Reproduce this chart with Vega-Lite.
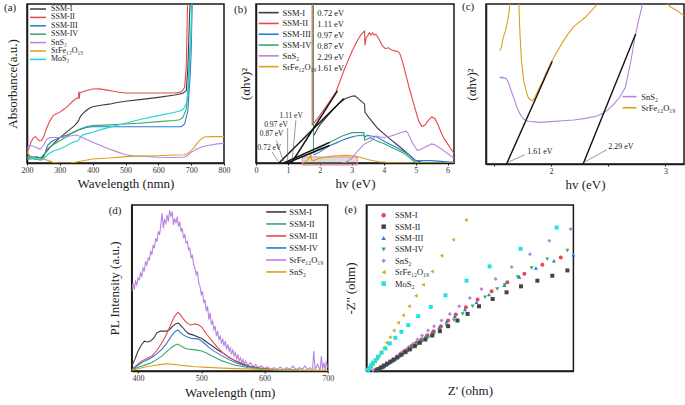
{
"$schema": "https://vega.github.io/schema/vega-lite/v6.json",
"background": "white",
"padding": {"left": 3, "top": 0, "right": 0, "bottom": 0},
"config": {
  "font": "Liberation Serif",
  "view": {"stroke": "#1a1a1a", "strokeWidth": 1.5},
  "axis": {"labelFont": "Liberation Serif", "titleFont": "Liberation Serif", "labelFontSize": 8, "titleFontSize": 13, "titleFontWeight": "normal", "labelColor": "#333", "titleColor": "#222", "domainColor": "#1a1a1a", "domainWidth": 1.5, "tickColor": "#1a1a1a", "tickSize": 2, "labelPadding": 1, "labelFlush": false, "grid": false},
  "legend": {"labelFont": "Liberation Serif", "labelColor": "#222"},
  "title": {"font": "Liberation Serif", "fontWeight": "normal", "fontSize": 11, "anchor": "start", "color": "#222", "offset": 0}
},
"datasets": {
  "a_lines": [
    {"x":200,"y":4.6,"s":"SSM-I"},{"x":210,"y":4.2,"s":"SSM-I"},{"x":220,"y":3.6,"s":"SSM-I"},{"x":235,"y":3,"s":"SSM-I"},{"x":245,"y":3.5,"s":"SSM-I"},{"x":255,"y":6,"s":"SSM-I"},{"x":270,"y":9.9,"s":"SSM-I"},{"x":285,"y":13,"s":"SSM-I"},{"x":300,"y":16,"s":"SSM-I"},{"x":315,"y":18.5,"s":"SSM-I"},{"x":330,"y":21,"s":"SSM-I"},{"x":345,"y":23.5,"s":"SSM-I"},{"x":355,"y":26,"s":"SSM-I"},{"x":358,"y":27,"s":"SSM-I"},{"x":362,"y":29,"s":"SSM-I"},{"x":370,"y":31,"s":"SSM-I"},{"x":380,"y":33,"s":"SSM-I"},{"x":390,"y":34.4,"s":"SSM-I"},{"x":400,"y":35.4,"s":"SSM-I"},{"x":425,"y":36.3,"s":"SSM-I"},{"x":450,"y":37,"s":"SSM-I"},{"x":475,"y":38,"s":"SSM-I"},{"x":500,"y":38.8,"s":"SSM-I"},{"x":550,"y":40,"s":"SSM-I"},{"x":600,"y":41.3,"s":"SSM-I"},{"x":650,"y":42.8,"s":"SSM-I"},{"x":675,"y":43.8,"s":"SSM-I"},{"x":685,"y":45.5,"s":"SSM-I"},{"x":690,"y":60,"s":"SSM-I"},{"x":695,"y":92,"s":"SSM-I"},{"x":699,"y":110,"s":"SSM-I"},
    {"x":200,"y":6.7,"s":"SSM-II"},{"x":205,"y":9,"s":"SSM-II"},{"x":212,"y":13,"s":"SSM-II"},{"x":220,"y":16,"s":"SSM-II"},{"x":226,"y":16.6,"s":"SSM-II"},{"x":232,"y":15,"s":"SSM-II"},{"x":238,"y":14,"s":"SSM-II"},{"x":244,"y":14.2,"s":"SSM-II"},{"x":250,"y":16,"s":"SSM-II"},{"x":260,"y":22,"s":"SSM-II"},{"x":270,"y":26.5,"s":"SSM-II"},{"x":280,"y":30,"s":"SSM-II"},{"x":290,"y":31,"s":"SSM-II"},{"x":300,"y":32,"s":"SSM-II"},{"x":310,"y":33.5,"s":"SSM-II"},{"x":320,"y":35,"s":"SSM-II"},{"x":330,"y":37,"s":"SSM-II"},{"x":340,"y":39,"s":"SSM-II"},{"x":350,"y":40.5,"s":"SSM-II"},{"x":357,"y":41,"s":"SSM-II"},{"x":358,"y":45,"s":"SSM-II"},{"x":359,"y":40.5,"s":"SSM-II"},{"x":361,"y":44,"s":"SSM-II"},{"x":370,"y":44.8,"s":"SSM-II"},{"x":380,"y":45.5,"s":"SSM-II"},{"x":400,"y":46.5,"s":"SSM-II"},{"x":420,"y":46.6,"s":"SSM-II"},{"x":440,"y":46,"s":"SSM-II"},{"x":460,"y":45.3,"s":"SSM-II"},{"x":480,"y":44.5,"s":"SSM-II"},{"x":500,"y":44,"s":"SSM-II"},{"x":550,"y":44,"s":"SSM-II"},{"x":600,"y":44,"s":"SSM-II"},{"x":650,"y":44,"s":"SSM-II"},{"x":670,"y":44.6,"s":"SSM-II"},{"x":680,"y":47.6,"s":"SSM-II"},{"x":685,"y":60,"s":"SSM-II"},{"x":688,"y":90,"s":"SSM-II"},{"x":690,"y":110,"s":"SSM-II"},
    {"x":200,"y":2.5,"s":"SSM-III"},{"x":215,"y":3.5,"s":"SSM-III"},{"x":230,"y":4,"s":"SSM-III"},{"x":240,"y":3,"s":"SSM-III"},{"x":247,"y":2.4,"s":"SSM-III"},{"x":255,"y":6,"s":"SSM-III"},{"x":262,"y":11,"s":"SSM-III"},{"x":275,"y":13.5,"s":"SSM-III"},{"x":300,"y":16,"s":"SSM-III"},{"x":320,"y":17.5,"s":"SSM-III"},{"x":340,"y":19,"s":"SSM-III"},{"x":360,"y":21,"s":"SSM-III"},{"x":380,"y":22.3,"s":"SSM-III"},{"x":400,"y":22.8,"s":"SSM-III"},{"x":500,"y":22.8,"s":"SSM-III"},{"x":600,"y":22.8,"s":"SSM-III"},{"x":670,"y":22.8,"s":"SSM-III"},{"x":680,"y":24.5,"s":"SSM-III"},{"x":690,"y":33,"s":"SSM-III"},{"x":697,"y":55,"s":"SSM-III"},{"x":700,"y":70,"s":"SSM-III"},{"x":704,"y":110,"s":"SSM-III"},
    {"x":200,"y":2.5,"s":"SSM-IV"},{"x":220,"y":2.5,"s":"SSM-IV"},{"x":240,"y":2,"s":"SSM-IV"},{"x":250,"y":3.5,"s":"SSM-IV"},{"x":260,"y":8.8,"s":"SSM-IV"},{"x":280,"y":11.5,"s":"SSM-IV"},{"x":300,"y":14,"s":"SSM-IV"},{"x":320,"y":16.5,"s":"SSM-IV"},{"x":340,"y":19.3,"s":"SSM-IV"},{"x":360,"y":21.3,"s":"SSM-IV"},{"x":380,"y":22.8,"s":"SSM-IV"},{"x":400,"y":23.5,"s":"SSM-IV"},{"x":450,"y":24,"s":"SSM-IV"},{"x":500,"y":24.5,"s":"SSM-IV"},{"x":550,"y":25.2,"s":"SSM-IV"},{"x":600,"y":26,"s":"SSM-IV"},{"x":650,"y":26.7,"s":"SSM-IV"},{"x":665,"y":27.2,"s":"SSM-IV"},{"x":675,"y":28.7,"s":"SSM-IV"},{"x":685,"y":34,"s":"SSM-IV"},{"x":690,"y":43,"s":"SSM-IV"},{"x":696,"y":70,"s":"SSM-IV"},{"x":700,"y":81,"s":"SSM-IV"},{"x":703,"y":110,"s":"SSM-IV"},
    {"x":200,"y":8.8,"s":"SnS₂"},{"x":205,"y":10.5,"s":"SnS₂"},{"x":212,"y":11,"s":"SnS₂"},{"x":220,"y":10.5,"s":"SnS₂"},{"x":230,"y":9.5,"s":"SnS₂"},{"x":240,"y":8.8,"s":"SnS₂"},{"x":250,"y":11,"s":"SnS₂"},{"x":260,"y":15,"s":"SnS₂"},{"x":270,"y":16,"s":"SnS₂"},{"x":285,"y":16,"s":"SnS₂"},{"x":300,"y":16,"s":"SnS₂"},{"x":315,"y":16.3,"s":"SnS₂"},{"x":330,"y":17,"s":"SnS₂"},{"x":350,"y":17.6,"s":"SnS₂"},{"x":365,"y":16.5,"s":"SnS₂"},{"x":380,"y":15,"s":"SnS₂"},{"x":400,"y":13,"s":"SnS₂"},{"x":425,"y":11,"s":"SnS₂"},{"x":450,"y":8.8,"s":"SnS₂"},{"x":475,"y":7,"s":"SnS₂"},{"x":500,"y":5.2,"s":"SnS₂"},{"x":525,"y":4.5,"s":"SnS₂"},{"x":550,"y":4.2,"s":"SnS₂"},{"x":600,"y":3.6,"s":"SnS₂"},{"x":650,"y":3.5,"s":"SnS₂"},{"x":680,"y":3.8,"s":"SnS₂"},{"x":690,"y":4.8,"s":"SnS₂"},{"x":700,"y":6.7,"s":"SnS₂"},{"x":715,"y":8.5,"s":"SnS₂"},{"x":730,"y":9.9,"s":"SnS₂"},{"x":745,"y":10.8,"s":"SnS₂"},{"x":760,"y":11.3,"s":"SnS₂"},{"x":780,"y":12,"s":"SnS₂"},{"x":800,"y":12.4,"s":"SnS₂"},
    {"x":200,"y":6.7,"s":"SrFe₁₂O₁₉"},{"x":207,"y":5,"s":"SrFe₁₂O₁₉"},{"x":215,"y":3.6,"s":"SrFe₁₂O₁₉"},{"x":230,"y":3,"s":"SrFe₁₂O₁₉"},{"x":250,"y":2.5,"s":"SrFe₁₂O₁₉"},{"x":265,"y":1.5,"s":"SrFe₁₂O₁₉"},{"x":280,"y":0.4,"s":"SrFe₁₂O₁₉"},{"x":300,"y":0,"s":"SrFe₁₂O₁₉"},{"x":330,"y":0,"s":"SrFe₁₂O₁₉"},{"x":350,"y":0.6,"s":"SrFe₁₂O₁₉"},{"x":375,"y":1.6,"s":"SrFe₁₂O₁₉"},{"x":400,"y":2.5,"s":"SrFe₁₂O₁₉"},{"x":450,"y":3.1,"s":"SrFe₁₂O₁₉"},{"x":500,"y":4,"s":"SrFe₁₂O₁₉"},{"x":550,"y":4.4,"s":"SrFe₁₂O₁₉"},{"x":600,"y":4.6,"s":"SrFe₁₂O₁₉"},{"x":650,"y":5,"s":"SrFe₁₂O₁₉"},{"x":680,"y":5.2,"s":"SrFe₁₂O₁₉"},{"x":690,"y":6,"s":"SrFe₁₂O₁₉"},{"x":700,"y":7.8,"s":"SrFe₁₂O₁₉"},{"x":710,"y":10,"s":"SrFe₁₂O₁₉"},{"x":720,"y":13,"s":"SrFe₁₂O₁₉"},{"x":730,"y":15,"s":"SrFe₁₂O₁₉"},{"x":740,"y":16.4,"s":"SrFe₁₂O₁₉"},{"x":760,"y":16.6,"s":"SrFe₁₂O₁₉"},{"x":780,"y":16.6,"s":"SrFe₁₂O₁₉"},{"x":800,"y":16.6,"s":"SrFe₁₂O₁₉"},
    {"x":200,"y":3.6,"s":"MoS₂"},{"x":215,"y":3.2,"s":"MoS₂"},{"x":230,"y":2.6,"s":"MoS₂"},{"x":245,"y":1.8,"s":"MoS₂"},{"x":255,"y":3.5,"s":"MoS₂"},{"x":265,"y":5.7,"s":"MoS₂"},{"x":280,"y":7.5,"s":"MoS₂"},{"x":300,"y":8.8,"s":"MoS₂"},{"x":320,"y":10.8,"s":"MoS₂"},{"x":340,"y":13,"s":"MoS₂"},{"x":355,"y":14,"s":"MoS₂"},{"x":362,"y":16,"s":"MoS₂"},{"x":368,"y":17.5,"s":"MoS₂"},{"x":380,"y":18.3,"s":"MoS₂"},{"x":400,"y":19.3,"s":"MoS₂"},{"x":425,"y":21,"s":"MoS₂"},{"x":450,"y":22.4,"s":"MoS₂"},{"x":475,"y":23.7,"s":"MoS₂"},{"x":500,"y":25,"s":"MoS₂"},{"x":550,"y":27.7,"s":"MoS₂"},{"x":600,"y":29.8,"s":"MoS₂"},{"x":650,"y":31.9,"s":"MoS₂"},{"x":670,"y":33,"s":"MoS₂"},{"x":680,"y":35,"s":"MoS₂"},{"x":687,"y":39,"s":"MoS₂"},{"x":692,"y":50,"s":"MoS₂"},{"x":697,"y":72,"s":"MoS₂"},{"x":700,"y":85,"s":"MoS₂"},{"x":703,"y":110,"s":"MoS₂"}
  ],
  "b_lines": [
    {"x":1.8,"y":17,"s":"SSM-I"},{"x":2.0,"y":24,"s":"SSM-I"},{"x":2.3,"y":31,"s":"SSM-I"},{"x":2.6,"y":37.5,"s":"SSM-I"},{"x":2.8,"y":40.5,"s":"SSM-I"},{"x":3.0,"y":42,"s":"SSM-I"},{"x":3.1,"y":42.2,"s":"SSM-I"},{"x":3.2,"y":40.5,"s":"SSM-I"},{"x":3.35,"y":38,"s":"SSM-I"},{"x":3.4,"y":37,"s":"SSM-I"},{"x":3.41,"y":32,"s":"SSM-I"},{"x":3.5,"y":29.5,"s":"SSM-I"},{"x":3.6,"y":27,"s":"SSM-I"},{"x":3.8,"y":22,"s":"SSM-I"},{"x":4.0,"y":18.5,"s":"SSM-I"},{"x":4.2,"y":15,"s":"SSM-I"},{"x":4.45,"y":11,"s":"SSM-I"},{"x":4.6,"y":8.5,"s":"SSM-I"},{"x":4.8,"y":5,"s":"SSM-I"},{"x":5.0,"y":1.5,"s":"SSM-I"},{"x":5.2,"y":0.3,"s":"SSM-I"},{"x":6.2,"y":0,"s":"SSM-I"},
    {"x":1.759,"y":105,"s":"SSM-II"},{"x":1.76,"y":24,"s":"SSM-II"},{"x":1.85,"y":26,"s":"SSM-II"},{"x":2.0,"y":30,"s":"SSM-II"},{"x":2.25,"y":37,"s":"SSM-II"},{"x":2.5,"y":44.5,"s":"SSM-II"},{"x":2.75,"y":58,"s":"SSM-II"},{"x":3.0,"y":70,"s":"SSM-II"},{"x":3.2,"y":78,"s":"SSM-II"},{"x":3.3,"y":81,"s":"SSM-II"},{"x":3.4,"y":83,"s":"SSM-II"},{"x":3.41,"y":74,"s":"SSM-II"},{"x":3.45,"y":79,"s":"SSM-II"},{"x":3.5,"y":80,"s":"SSM-II"},{"x":3.55,"y":82,"s":"SSM-II"},{"x":3.6,"y":80.5,"s":"SSM-II"},{"x":3.65,"y":82,"s":"SSM-II"},{"x":3.7,"y":80.5,"s":"SSM-II"},{"x":3.75,"y":81,"s":"SSM-II"},{"x":3.85,"y":78,"s":"SSM-II"},{"x":3.95,"y":74,"s":"SSM-II"},{"x":4.05,"y":72,"s":"SSM-II"},{"x":4.15,"y":72.5,"s":"SSM-II"},{"x":4.25,"y":71,"s":"SSM-II"},{"x":4.35,"y":70.5,"s":"SSM-II"},{"x":4.45,"y":70,"s":"SSM-II"},{"x":4.5,"y":69,"s":"SSM-II"},{"x":4.6,"y":63,"s":"SSM-II"},{"x":4.7,"y":55,"s":"SSM-II"},{"x":4.8,"y":47,"s":"SSM-II"},{"x":4.9,"y":40,"s":"SSM-II"},{"x":5.0,"y":33,"s":"SSM-II"},{"x":5.1,"y":26,"s":"SSM-II"},{"x":5.2,"y":23,"s":"SSM-II"},{"x":5.3,"y":24,"s":"SSM-II"},{"x":5.4,"y":27,"s":"SSM-II"},{"x":5.5,"y":29,"s":"SSM-II"},{"x":5.6,"y":28,"s":"SSM-II"},{"x":5.7,"y":24,"s":"SSM-II"},{"x":5.8,"y":19,"s":"SSM-II"},{"x":5.9,"y":15,"s":"SSM-II"},{"x":6.0,"y":12,"s":"SSM-II"},{"x":6.1,"y":9,"s":"SSM-II"},{"x":6.2,"y":6,"s":"SSM-II"},
    {"x":1.8,"y":5,"s":"SSM-III"},{"x":2.0,"y":7,"s":"SSM-III"},{"x":2.28,"y":10.7,"s":"SSM-III"},{"x":2.5,"y":12.5,"s":"SSM-III"},{"x":2.7,"y":14.3,"s":"SSM-III"},{"x":2.9,"y":15.8,"s":"SSM-III"},{"x":3.12,"y":17,"s":"SSM-III"},{"x":3.38,"y":17.6,"s":"SSM-III"},{"x":3.4,"y":16,"s":"SSM-III"},{"x":3.48,"y":17.4,"s":"SSM-III"},{"x":3.6,"y":17,"s":"SSM-III"},{"x":3.79,"y":16.4,"s":"SSM-III"},{"x":4.05,"y":13.2,"s":"SSM-III"},{"x":4.37,"y":10,"s":"SSM-III"},{"x":4.6,"y":7.5,"s":"SSM-III"},{"x":4.8,"y":5,"s":"SSM-III"},{"x":5.0,"y":1.5,"s":"SSM-III"},{"x":5.5,"y":1.5,"s":"SSM-III"},{"x":5.8,"y":1,"s":"SSM-III"},{"x":6.2,"y":0.5,"s":"SSM-III"},
    {"x":1.799,"y":105,"s":"SSM-IV"},{"x":1.8,"y":6.5,"s":"SSM-IV"},{"x":1.85,"y":7.5,"s":"SSM-IV"},{"x":2.0,"y":9.5,"s":"SSM-IV"},{"x":2.28,"y":12.8,"s":"SSM-IV"},{"x":2.5,"y":15,"s":"SSM-IV"},{"x":2.7,"y":17,"s":"SSM-IV"},{"x":3.01,"y":19.1,"s":"SSM-IV"},{"x":3.2,"y":19.2,"s":"SSM-IV"},{"x":3.38,"y":19.1,"s":"SSM-IV"},{"x":3.4,"y":14.3,"s":"SSM-IV"},{"x":3.58,"y":15.9,"s":"SSM-IV"},{"x":3.79,"y":13.8,"s":"SSM-IV"},{"x":4.05,"y":11.8,"s":"SSM-IV"},{"x":4.37,"y":8.6,"s":"SSM-IV"},{"x":4.6,"y":6.5,"s":"SSM-IV"},{"x":4.8,"y":3.6,"s":"SSM-IV"},{"x":4.95,"y":1,"s":"SSM-IV"},{"x":5.1,"y":0,"s":"SSM-IV"},{"x":6.2,"y":0,"s":"SSM-IV"},
    {"x":2.7,"y":0,"s":"SnS₂"},{"x":2.8,"y":0.5,"s":"SnS₂"},{"x":2.9,"y":1.5,"s":"SnS₂"},{"x":3.0,"y":3,"s":"SnS₂"},{"x":3.1,"y":5.5,"s":"SnS₂"},{"x":3.2,"y":8,"s":"SnS₂"},{"x":3.3,"y":10,"s":"SnS₂"},{"x":3.4,"y":12,"s":"SnS₂"},{"x":3.5,"y":13,"s":"SnS₂"},{"x":3.6,"y":14,"s":"SnS₂"},{"x":3.7,"y":16,"s":"SnS₂"},{"x":3.75,"y":17,"s":"SnS₂"},{"x":3.85,"y":16.5,"s":"SnS₂"},{"x":4.0,"y":16,"s":"SnS₂"},{"x":4.15,"y":16.5,"s":"SnS₂"},{"x":4.3,"y":17.5,"s":"SnS₂"},{"x":4.45,"y":18.5,"s":"SnS₂"},{"x":4.6,"y":19.5,"s":"SnS₂"},{"x":4.7,"y":20,"s":"SnS₂"},{"x":4.75,"y":19,"s":"SnS₂"},{"x":4.8,"y":17,"s":"SnS₂"},{"x":4.9,"y":12.5,"s":"SnS₂"},{"x":4.95,"y":11,"s":"SnS₂"},{"x":5.05,"y":8,"s":"SnS₂"},{"x":5.15,"y":8.5,"s":"SnS₂"},{"x":5.3,"y":10,"s":"SnS₂"},{"x":5.5,"y":12,"s":"SnS₂"},{"x":5.6,"y":11.5,"s":"SnS₂"},{"x":5.7,"y":10,"s":"SnS₂"},{"x":5.8,"y":9,"s":"SnS₂"},{"x":5.9,"y":7.5,"s":"SnS₂"},{"x":6.0,"y":6,"s":"SnS₂"},{"x":6.1,"y":4.5,"s":"SnS₂"},{"x":6.2,"y":3,"s":"SnS₂"},
    {"x":1.45,"y":0,"s":"SrFe₁₂O₁₉"},{"x":1.55,"y":1,"s":"SrFe₁₂O₁₉"},{"x":1.62,"y":2,"s":"SrFe₁₂O₁₉"},{"x":1.68,"y":3.5,"s":"SrFe₁₂O₁₉"},{"x":1.71,"y":6.5,"s":"SrFe₁₂O₁₉"},{"x":1.74,"y":2,"s":"SrFe₁₂O₁₉"},{"x":1.8,"y":1.5,"s":"SrFe₁₂O₁₉"},{"x":1.97,"y":2.8,"s":"SrFe₁₂O₁₉"},{"x":2.2,"y":3.6,"s":"SrFe₁₂O₁₉"},{"x":2.39,"y":4.3,"s":"SrFe₁₂O₁₉"},{"x":2.6,"y":4.6,"s":"SrFe₁₂O₁₉"},{"x":2.8,"y":4.8,"s":"SrFe₁₂O₁₉"},{"x":3.0,"y":4.6,"s":"SrFe₁₂O₁₉"},{"x":3.11,"y":4.3,"s":"SrFe₁₂O₁₉"},{"x":3.3,"y":3.3,"s":"SrFe₁₂O₁₉"},{"x":3.53,"y":2,"s":"SrFe₁₂O₁₉"},{"x":3.84,"y":0.8,"s":"SrFe₁₂O₁₉"},{"x":4.2,"y":0.3,"s":"SrFe₁₂O₁₉"},{"x":5.0,"y":0,"s":"SrFe₁₂O₁₉"},{"x":6.2,"y":0,"s":"SrFe₁₂O₁₉"}
  ],
  "b_tan": [
    {"x":0.72,"y":0,"id":"t1"},{"x":2.75,"y":40.5,"id":"t1"},
    {"x":1.11,"y":0,"id":"t2"},{"x":2.55,"y":45.3,"id":"t2"},
    {"x":0.97,"y":0,"id":"t3"},{"x":2.3,"y":11,"id":"t3"},
    {"x":0.87,"y":0,"id":"t4"},{"x":2.3,"y":13,"id":"t4"}
  ],
  "b_arrow": [
    {"x":1.25,"y":27,"x2":1.13,"y2":1},
    {"x":0.99,"y":22,"x2":0.99,"y2":1},
    {"x":0.64,"y":14,"x2":0.86,"y2":1},
    {"x":0.5,"y":7,"x2":0.7,"y2":1}
  ],
  "b_text": [
    {"x":1.1,"y":29.6,"t":"1.11 eV"},
    {"x":0.63,"y":23.9,"t":"0.97 eV"},
    {"x":0.49,"y":18,"t":"0.87 eV"},
    {"x":0.42,"y":9.6,"t":"0.72 eV"}
  ],
  "b_rect": [{"x":1.45,"y":-1.3,"x2":3.17,"y2":3.8}],
  "b_ev": [
    {"x":1.92,"y":94.3,"t":"0.72 eV"},
    {"x":1.92,"y":87.4,"t":"1.11 eV"},
    {"x":1.92,"y":80.5,"t":"0.97 eV"},
    {"x":1.92,"y":73.6,"t":"0.87 eV"},
    {"x":1.92,"y":66.7,"t":"2.29 eV"},
    {"x":1.92,"y":59.7,"t":"1.61 eV"}
  ],
  "c_lines": [
    {"x":1.55,"y":53.8,"s":"SnS₂"},{"x":1.56,"y":54.5,"s":"SnS₂"},{"x":1.57,"y":53.5,"s":"SnS₂"},{"x":1.58,"y":54.2,"s":"SnS₂"},{"x":1.59,"y":53.5,"s":"SnS₂"},{"x":1.6,"y":53.8,"s":"SnS₂"},{"x":1.62,"y":52,"s":"SnS₂"},{"x":1.65,"y":45.8,"s":"SnS₂"},{"x":1.68,"y":40,"s":"SnS₂"},{"x":1.7,"y":35.4,"s":"SnS₂"},{"x":1.73,"y":31,"s":"SnS₂"},{"x":1.76,"y":28,"s":"SnS₂"},{"x":1.8,"y":26.7,"s":"SnS₂"},{"x":1.9,"y":26,"s":"SnS₂"},{"x":2.0,"y":26.5,"s":"SnS₂"},{"x":2.1,"y":27,"s":"SnS₂"},{"x":2.2,"y":27.5,"s":"SnS₂"},{"x":2.3,"y":28.5,"s":"SnS₂"},{"x":2.4,"y":30,"s":"SnS₂"},{"x":2.45,"y":31.5,"s":"SnS₂"},{"x":2.5,"y":34,"s":"SnS₂"},{"x":2.55,"y":37.5,"s":"SnS₂"},{"x":2.6,"y":41.7,"s":"SnS₂"},{"x":2.65,"y":48,"s":"SnS₂"},{"x":2.7,"y":65,"s":"SnS₂"},{"x":2.73,"y":78,"s":"SnS₂"},{"x":2.76,"y":88,"s":"SnS₂"},{"x":2.79,"y":97,"s":"SnS₂"},{"x":2.81,"y":105,"s":"SnS₂"},
    {"x":1.55,"y":70.8,"s":"SrFe₁₂O₁₉"},{"x":1.565,"y":73,"s":"SrFe₁₂O₁₉"},{"x":1.58,"y":79,"s":"SrFe₁₂O₁₉"},{"x":1.6,"y":83,"s":"SrFe₁₂O₁₉"},{"x":1.615,"y":88,"s":"SrFe₁₂O₁₉"},{"x":1.63,"y":94,"s":"SrFe₁₂O₁₉"},{"x":1.645,"y":106,"s":"SrFe₁₂O₁₉"},{"x":1.715,"y":106,"s":"SrFe₁₂O₁₉"},{"x":1.725,"y":85,"s":"SrFe₁₂O₁₉"},{"x":1.74,"y":65,"s":"SrFe₁₂O₁₉"},{"x":1.76,"y":52,"s":"SrFe₁₂O₁₉"},{"x":1.78,"y":45.8,"s":"SrFe₁₂O₁₉"},{"x":1.8,"y":41.5,"s":"SrFe₁₂O₁₉"},{"x":1.82,"y":40,"s":"SrFe₁₂O₁₉"},{"x":1.84,"y":39.6,"s":"SrFe₁₂O₁₉"},{"x":1.86,"y":42,"s":"SrFe₁₂O₁₉"},{"x":1.88,"y":45,"s":"SrFe₁₂O₁₉"},{"x":1.92,"y":51,"s":"SrFe₁₂O₁₉"},{"x":1.95,"y":56,"s":"SrFe₁₂O₁₉"},{"x":2.0,"y":63.5,"s":"SrFe₁₂O₁₉"},{"x":2.05,"y":70,"s":"SrFe₁₂O₁₉"},{"x":2.1,"y":76,"s":"SrFe₁₂O₁₉"},{"x":2.15,"y":81.5,"s":"SrFe₁₂O₁₉"},{"x":2.2,"y":86,"s":"SrFe₁₂O₁₉"},{"x":2.25,"y":89,"s":"SrFe₁₂O₁₉"},{"x":2.3,"y":91.7,"s":"SrFe₁₂O₁₉"},{"x":2.35,"y":95.5,"s":"SrFe₁₂O₁₉"},{"x":2.4,"y":99.5,"s":"SrFe₁₂O₁₉"},{"x":2.43,"y":106,"s":"SrFe₁₂O₁₉"},{"x":2.98,"y":106,"s":"SrFe₁₂O₁₉"},{"x":3.0,"y":101,"s":"SrFe₁₂O₁₉"},{"x":3.05,"y":98,"s":"SrFe₁₂O₁₉"},{"x":3.1,"y":96,"s":"SrFe₁₂O₁₉"},{"x":3.163,"y":92.7,"s":"SrFe₁₂O₁₉"}
  ],
  "c_tan": [
    {"x":1.61,"y":0,"id":"t1"},{"x":2.01,"y":64.2,"id":"t1"},
    {"x":2.28,"y":0,"id":"t2"},{"x":2.74,"y":81.2,"id":"t2"}
  ],
  "c_arrow": [
    {"x":1.77,"y":5.8,"x2":1.62,"y2":1},
    {"x":2.49,"y":9,"x2":2.3,"y2":1.5}
  ],
  "c_text": [
    {"x":1.79,"y":7.3,"t":"1.61 eV"},
    {"x":2.5,"y":10.4,"t":"2.29 eV"}
  ],
  "d_lines": [
    {"x":390,"y":48,"s":"SrFe₁₂O₁₉"},{"x":392,"y":53,"s":"SrFe₁₂O₁₉"},{"x":394,"y":49,"s":"SrFe₁₂O₁₉"},{"x":396,"y":54,"s":"SrFe₁₂O₁₉"},{"x":398,"y":52,"s":"SrFe₁₂O₁₉"},{"x":400,"y":56,"s":"SrFe₁₂O₁₉"},{"x":402,"y":55,"s":"SrFe₁₂O₁₉"},{"x":404,"y":59,"s":"SrFe₁₂O₁₉"},{"x":406,"y":57,"s":"SrFe₁₂O₁₉"},{"x":408,"y":62,"s":"SrFe₁₂O₁₉"},{"x":410,"y":60,"s":"SrFe₁₂O₁₉"},{"x":412,"y":66,"s":"SrFe₁₂O₁₉"},{"x":414,"y":64,"s":"SrFe₁₂O₁₉"},{"x":416,"y":68,"s":"SrFe₁₂O₁₉"},{"x":418,"y":67,"s":"SrFe₁₂O₁₉"},{"x":420,"y":72,"s":"SrFe₁₂O₁₉"},{"x":422,"y":70,"s":"SrFe₁₂O₁₉"},{"x":424,"y":76,"s":"SrFe₁₂O₁₉"},{"x":426,"y":74,"s":"SrFe₁₂O₁₉"},{"x":428,"y":80,"s":"SrFe₁₂O₁₉"},{"x":430,"y":78,"s":"SrFe₁₂O₁₉"},{"x":432,"y":84,"s":"SrFe₁₂O₁₉"},{"x":434,"y":82,"s":"SrFe₁₂O₁₉"},{"x":436,"y":88,"s":"SrFe₁₂O₁₉"},{"x":438,"y":95,"s":"SrFe₁₂O₁₉"},{"x":440,"y":86,"s":"SrFe₁₂O₁₉"},{"x":442,"y":91,"s":"SrFe₁₂O₁₉"},{"x":444,"y":89,"s":"SrFe₁₂O₁₉"},{"x":446,"y":94,"s":"SrFe₁₂O₁₉"},{"x":448,"y":90,"s":"SrFe₁₂O₁₉"},{"x":450,"y":97,"s":"SrFe₁₂O₁₉"},{"x":452,"y":93,"s":"SrFe₁₂O₁₉"},{"x":454,"y":96,"s":"SrFe₁₂O₁₉"},{"x":456,"y":88,"s":"SrFe₁₂O₁₉"},{"x":458,"y":92,"s":"SrFe₁₂O₁₉"},{"x":460,"y":89,"s":"SrFe₁₂O₁₉"},{"x":462,"y":93,"s":"SrFe₁₂O₁₉"},{"x":464,"y":87,"s":"SrFe₁₂O₁₉"},{"x":466,"y":90,"s":"SrFe₁₂O₁₉"},{"x":468,"y":84,"s":"SrFe₁₂O₁₉"},{"x":470,"y":86,"s":"SrFe₁₂O₁₉"},{"x":472,"y":80,"s":"SrFe₁₂O₁₉"},{"x":474,"y":82,"s":"SrFe₁₂O₁₉"},{"x":476,"y":77,"s":"SrFe₁₂O₁₉"},{"x":478,"y":78,"s":"SrFe₁₂O₁₉"},{"x":480,"y":73,"s":"SrFe₁₂O₁₉"},{"x":482,"y":74,"s":"SrFe₁₂O₁₉"},{"x":484,"y":68,"s":"SrFe₁₂O₁₉"},{"x":486,"y":70,"s":"SrFe₁₂O₁₉"},{"x":488,"y":64,"s":"SrFe₁₂O₁₉"},{"x":490,"y":62,"s":"SrFe₁₂O₁₉"},{"x":492,"y":58,"s":"SrFe₁₂O₁₉"},{"x":494,"y":60,"s":"SrFe₁₂O₁₉"},{"x":496,"y":53,"s":"SrFe₁₂O₁₉"},{"x":498,"y":51,"s":"SrFe₁₂O₁₉"},{"x":500,"y":46,"s":"SrFe₁₂O₁₉"},{"x":502,"y":48,"s":"SrFe₁₂O₁₉"},{"x":504,"y":41,"s":"SrFe₁₂O₁₉"},{"x":506,"y":43,"s":"SrFe₁₂O₁₉"},{"x":508,"y":36,"s":"SrFe₁₂O₁₉"},{"x":510,"y":39,"s":"SrFe₁₂O₁₉"},{"x":512,"y":31,"s":"SrFe₁₂O₁₉"},{"x":514,"y":35,"s":"SrFe₁₂O₁₉"},{"x":516,"y":28,"s":"SrFe₁₂O₁₉"},{"x":518,"y":30,"s":"SrFe₁₂O₁₉"},{"x":520,"y":25,"s":"SrFe₁₂O₁₉"},{"x":522,"y":27,"s":"SrFe₁₂O₁₉"},{"x":524,"y":21,"s":"SrFe₁₂O₁₉"},{"x":526,"y":24,"s":"SrFe₁₂O₁₉"},{"x":528,"y":19,"s":"SrFe₁₂O₁₉"},{"x":530,"y":21,"s":"SrFe₁₂O₁₉"},{"x":532,"y":17,"s":"SrFe₁₂O₁₉"},{"x":534,"y":19,"s":"SrFe₁₂O₁₉"},{"x":536,"y":15,"s":"SrFe₁₂O₁₉"},{"x":538,"y":18,"s":"SrFe₁₂O₁₉"},{"x":540,"y":13,"s":"SrFe₁₂O₁₉"},{"x":542,"y":16,"s":"SrFe₁₂O₁₉"},{"x":544,"y":12,"s":"SrFe₁₂O₁₉"},{"x":546,"y":14,"s":"SrFe₁₂O₁₉"},{"x":548,"y":10,"s":"SrFe₁₂O₁₉"},{"x":550,"y":13,"s":"SrFe₁₂O₁₉"},{"x":552,"y":9,"s":"SrFe₁₂O₁₉"},{"x":554,"y":11,"s":"SrFe₁₂O₁₉"},{"x":556,"y":7,"s":"SrFe₁₂O₁₉"},{"x":558,"y":10,"s":"SrFe₁₂O₁₉"},{"x":560,"y":6,"s":"SrFe₁₂O₁₉"},{"x":562,"y":8,"s":"SrFe₁₂O₁₉"},{"x":564,"y":5,"s":"SrFe₁₂O₁₉"},{"x":566,"y":7,"s":"SrFe₁₂O₁₉"},{"x":568,"y":4,"s":"SrFe₁₂O₁₉"},{"x":570,"y":6,"s":"SrFe₁₂O₁₉"},{"x":574,"y":3.5,"s":"SrFe₁₂O₁₉"},{"x":578,"y":5,"s":"SrFe₁₂O₁₉"},{"x":582,"y":2.5,"s":"SrFe₁₂O₁₉"},{"x":586,"y":4,"s":"SrFe₁₂O₁₉"},{"x":590,"y":2,"s":"SrFe₁₂O₁₉"},{"x":595,"y":3,"s":"SrFe₁₂O₁₉"},{"x":600,"y":1.5,"s":"SrFe₁₂O₁₉"},{"x":605,"y":2.5,"s":"SrFe₁₂O₁₉"},{"x":610,"y":1,"s":"SrFe₁₂O₁₉"},{"x":615,"y":2,"s":"SrFe₁₂O₁₉"},{"x":620,"y":1,"s":"SrFe₁₂O₁₉"},{"x":625,"y":2.5,"s":"SrFe₁₂O₁₉"},{"x":630,"y":0.8,"s":"SrFe₁₂O₁₉"},{"x":635,"y":2,"s":"SrFe₁₂O₁₉"},{"x":640,"y":1,"s":"SrFe₁₂O₁₉"},{"x":645,"y":3,"s":"SrFe₁₂O₁₉"},{"x":650,"y":0.8,"s":"SrFe₁₂O₁₉"},{"x":655,"y":2,"s":"SrFe₁₂O₁₉"},{"x":660,"y":1,"s":"SrFe₁₂O₁₉"},{"x":664,"y":3,"s":"SrFe₁₂O₁₉"},{"x":668,"y":1,"s":"SrFe₁₂O₁₉"},{"x":672,"y":2,"s":"SrFe₁₂O₁₉"},{"x":676,"y":0.5,"s":"SrFe₁₂O₁₉"},{"x":678,"y":12,"s":"SrFe₁₂O₁₉"},{"x":680,"y":1,"s":"SrFe₁₂O₁₉"},{"x":684,"y":4,"s":"SrFe₁₂O₁₉"},{"x":688,"y":0.5,"s":"SrFe₁₂O₁₉"},{"x":690,"y":9,"s":"SrFe₁₂O₁₉"},{"x":692,"y":1,"s":"SrFe₁₂O₁₉"},{"x":694,"y":5,"s":"SrFe₁₂O₁₉"},{"x":696,"y":0.5,"s":"SrFe₁₂O₁₉"},{"x":698,"y":6,"s":"SrFe₁₂O₁₉"},{"x":700,"y":2,"s":"SrFe₁₂O₁₉"},
    {"x":390,"y":3,"s":"SSM-I"},{"x":395,"y":7,"s":"SSM-I"},{"x":400,"y":12,"s":"SSM-I"},{"x":405,"y":15.5,"s":"SSM-I"},{"x":410,"y":18,"s":"SSM-I"},{"x":415,"y":17.5,"s":"SSM-I"},{"x":420,"y":18,"s":"SSM-I"},{"x":425,"y":20,"s":"SSM-I"},{"x":430,"y":23,"s":"SSM-I"},{"x":435,"y":24,"s":"SSM-I"},{"x":440,"y":24,"s":"SSM-I"},{"x":445,"y":24,"s":"SSM-I"},{"x":450,"y":25,"s":"SSM-I"},{"x":455,"y":27,"s":"SSM-I"},{"x":460,"y":28.5,"s":"SSM-I"},{"x":464,"y":28.9,"s":"SSM-I"},{"x":470,"y":26.5,"s":"SSM-I"},{"x":475,"y":24.2,"s":"SSM-I"},{"x":480,"y":22.5,"s":"SSM-I"},{"x":488,"y":21.6,"s":"SSM-I"},{"x":495,"y":20.5,"s":"SSM-I"},{"x":501,"y":19.6,"s":"SSM-I"},{"x":510,"y":17,"s":"SSM-I"},{"x":517,"y":15.2,"s":"SSM-I"},{"x":525,"y":13,"s":"SSM-I"},{"x":533,"y":11.2,"s":"SSM-I"},{"x":543,"y":8.5,"s":"SSM-I"},{"x":554,"y":6.1,"s":"SSM-I"},{"x":565,"y":4.3,"s":"SSM-I"},{"x":575,"y":3,"s":"SSM-I"},{"x":590,"y":1.8,"s":"SSM-I"},{"x":607,"y":1,"s":"SSM-I"},{"x":630,"y":0.5,"s":"SSM-I"},{"x":660,"y":0.3,"s":"SSM-I"},{"x":700,"y":0.2,"s":"SSM-I"},
    {"x":390,"y":0.8,"s":"SSM-III"},{"x":398,"y":3.5,"s":"SSM-III"},{"x":406,"y":6.1,"s":"SSM-III"},{"x":414,"y":7.5,"s":"SSM-III"},{"x":422,"y":9.1,"s":"SSM-III"},{"x":430,"y":12.5,"s":"SSM-III"},{"x":438,"y":17.2,"s":"SSM-III"},{"x":445,"y":22,"s":"SSM-III"},{"x":451,"y":27.3,"s":"SSM-III"},{"x":457,"y":32.5,"s":"SSM-III"},{"x":463,"y":35.4,"s":"SSM-III"},{"x":467,"y":34,"s":"SSM-III"},{"x":472,"y":31.3,"s":"SSM-III"},{"x":477,"y":29,"s":"SSM-III"},{"x":483,"y":27.7,"s":"SSM-III"},{"x":488,"y":28.2,"s":"SSM-III"},{"x":491,"y":28.3,"s":"SSM-III"},{"x":496,"y":27.7,"s":"SSM-III"},{"x":501,"y":26.3,"s":"SSM-III"},{"x":509,"y":22,"s":"SSM-III"},{"x":517,"y":18.2,"s":"SSM-III"},{"x":525,"y":14.5,"s":"SSM-III"},{"x":533,"y":11.2,"s":"SSM-III"},{"x":543,"y":8.3,"s":"SSM-III"},{"x":554,"y":6.1,"s":"SSM-III"},{"x":565,"y":4.3,"s":"SSM-III"},{"x":575,"y":3,"s":"SSM-III"},{"x":590,"y":1.8,"s":"SSM-III"},{"x":607,"y":1,"s":"SSM-III"},{"x":630,"y":0.5,"s":"SSM-III"},{"x":660,"y":0.3,"s":"SSM-III"},{"x":700,"y":0.2,"s":"SSM-III"},
    {"x":390,"y":0.6,"s":"SSM-IV"},{"x":398,"y":3,"s":"SSM-IV"},{"x":406,"y":5.1,"s":"SSM-IV"},{"x":414,"y":6.6,"s":"SSM-IV"},{"x":422,"y":8.1,"s":"SSM-IV"},{"x":430,"y":10.5,"s":"SSM-IV"},{"x":438,"y":13.2,"s":"SSM-IV"},{"x":445,"y":16.5,"s":"SSM-IV"},{"x":453,"y":21.2,"s":"SSM-IV"},{"x":458,"y":23.5,"s":"SSM-IV"},{"x":463,"y":24.8,"s":"SSM-IV"},{"x":468,"y":23,"s":"SSM-IV"},{"x":472,"y":21.6,"s":"SSM-IV"},{"x":478,"y":20.5,"s":"SSM-IV"},{"x":485,"y":19.6,"s":"SSM-IV"},{"x":490,"y":19.5,"s":"SSM-IV"},{"x":496,"y":19.2,"s":"SSM-IV"},{"x":504,"y":17,"s":"SSM-IV"},{"x":512,"y":14.2,"s":"SSM-IV"},{"x":522,"y":11.5,"s":"SSM-IV"},{"x":533,"y":9.1,"s":"SSM-IV"},{"x":543,"y":7,"s":"SSM-IV"},{"x":554,"y":5.1,"s":"SSM-IV"},{"x":565,"y":3.6,"s":"SSM-IV"},{"x":575,"y":2.4,"s":"SSM-IV"},{"x":590,"y":1.6,"s":"SSM-IV"},{"x":607,"y":1,"s":"SSM-IV"},{"x":630,"y":0.5,"s":"SSM-IV"},{"x":660,"y":0.3,"s":"SSM-IV"},{"x":700,"y":0.2,"s":"SSM-IV"},
    {"x":390,"y":0.4,"s":"SSM-II"},{"x":398,"y":2,"s":"SSM-II"},{"x":406,"y":3,"s":"SSM-II"},{"x":414,"y":4,"s":"SSM-II"},{"x":422,"y":5.1,"s":"SSM-II"},{"x":430,"y":7,"s":"SSM-II"},{"x":438,"y":9.1,"s":"SSM-II"},{"x":445,"y":11.5,"s":"SSM-II"},{"x":453,"y":14.2,"s":"SSM-II"},{"x":458,"y":15.5,"s":"SSM-II"},{"x":463,"y":16.2,"s":"SSM-II"},{"x":468,"y":15,"s":"SSM-II"},{"x":475,"y":13.6,"s":"SSM-II"},{"x":483,"y":13,"s":"SSM-II"},{"x":491,"y":12.7,"s":"SSM-II"},{"x":501,"y":12.1,"s":"SSM-II"},{"x":509,"y":10.7,"s":"SSM-II"},{"x":517,"y":9.1,"s":"SSM-II"},{"x":525,"y":7.5,"s":"SSM-II"},{"x":533,"y":6.1,"s":"SSM-II"},{"x":543,"y":4.8,"s":"SSM-II"},{"x":554,"y":3.5,"s":"SSM-II"},{"x":565,"y":2.7,"s":"SSM-II"},{"x":575,"y":2,"s":"SSM-II"},{"x":590,"y":1.4,"s":"SSM-II"},{"x":607,"y":1,"s":"SSM-II"},{"x":630,"y":0.5,"s":"SSM-II"},{"x":660,"y":0.3,"s":"SSM-II"},{"x":700,"y":0.2,"s":"SSM-II"},
    {"x":390,"y":0.4,"s":"SnS₂"},{"x":400,"y":1.4,"s":"SnS₂"},{"x":411,"y":2.4,"s":"SnS₂"},{"x":425,"y":3.3,"s":"SnS₂"},{"x":438,"y":4,"s":"SnS₂"},{"x":446,"y":4.4,"s":"SnS₂"},{"x":455,"y":4,"s":"SnS₂"},{"x":464,"y":3.6,"s":"SnS₂"},{"x":477,"y":3.1,"s":"SnS₂"},{"x":491,"y":2.6,"s":"SnS₂"},{"x":510,"y":2.2,"s":"SnS₂"},{"x":525,"y":1.9,"s":"SnS₂"},{"x":543,"y":1.6,"s":"SnS₂"},{"x":570,"y":1.3,"s":"SnS₂"},{"x":596,"y":1,"s":"SnS₂"},{"x":620,"y":0.8,"s":"SnS₂"},{"x":649,"y":0.6,"s":"SnS₂"},{"x":675,"y":0.5,"s":"SnS₂"},{"x":700,"y":0.4,"s":"SnS₂"}
  ],
  "e_pts": [
    {"x":48.1,"y":91,"s":"SrFe₁₂O₁₉"},{"x":41.9,"y":79,"s":"SrFe₁₂O₁₉"},{"x":36.3,"y":69.4,"s":"SrFe₁₂O₁₉"},{"x":31.8,"y":60,"s":"SrFe₁₂O₁₉"},{"x":27.4,"y":52,"s":"SrFe₁₂O₁₉"},{"x":23.9,"y":45.4,"s":"SrFe₁₂O₁₉"},{"x":20.6,"y":39,"s":"SrFe₁₂O₁₉"},{"x":17.7,"y":33.6,"s":"SrFe₁₂O₁₉"},{"x":15.3,"y":29,"s":"SrFe₁₂O₁₉"},{"x":13.2,"y":24.4,"s":"SrFe₁₂O₁₉"},{"x":11.3,"y":20.4,"s":"SrFe₁₂O₁₉"},{"x":9.7,"y":17,"s":"SrFe₁₂O₁₉"},{"x":8.4,"y":14,"s":"SrFe₁₂O₁₉"},{"x":7.3,"y":11.6,"s":"SrFe₁₂O₁₉"},{"x":6.1,"y":9.4,"s":"SrFe₁₂O₁₉"},{"x":5.2,"y":7.4,"s":"SrFe₁₂O₁₉"},{"x":4.2,"y":5.6,"s":"SrFe₁₂O₁₉"},{"x":3.2,"y":4,"s":"SrFe₁₂O₁₉"},{"x":2.4,"y":2.6,"s":"SrFe₁₂O₁₉"},{"x":1.6,"y":1.4,"s":"SrFe₁₂O₁₉"},{"x":0.8,"y":0.4,"s":"SrFe₁₂O₁₉"},
    {"x":91.9,"y":86.4,"s":"MoS₂"},{"x":74.5,"y":73.6,"s":"MoS₂"},{"x":59.5,"y":63,"s":"MoS₂"},{"x":48.4,"y":54.4,"s":"MoS₂"},{"x":38.2,"y":45.6,"s":"MoS₂"},{"x":31.1,"y":38.6,"s":"MoS₂"},{"x":25,"y":33,"s":"MoS₂"},{"x":20.2,"y":27.6,"s":"MoS₂"},{"x":16.9,"y":23.6,"s":"MoS₂"},{"x":14,"y":20,"s":"MoS₂"},{"x":11.3,"y":16.6,"s":"MoS₂"},{"x":9.2,"y":13.6,"s":"MoS₂"},{"x":7.3,"y":11,"s":"MoS₂"},{"x":5.6,"y":8.6,"s":"MoS₂"},{"x":4.4,"y":6.6,"s":"MoS₂"},{"x":3.2,"y":5,"s":"MoS₂"},{"x":2.4,"y":3.6,"s":"MoS₂"},{"x":1.6,"y":2,"s":"MoS₂"},{"x":0.8,"y":0.8,"s":"MoS₂"},
    {"x":98.7,"y":85.6,"s":"SnS₂"},{"x":88.4,"y":78.4,"s":"SnS₂"},{"x":79,"y":70.4,"s":"SnS₂"},{"x":70.2,"y":62.6,"s":"SnS₂"},{"x":62.4,"y":55.4,"s":"SnS₂"},{"x":55.6,"y":49.4,"s":"SnS₂"},{"x":50,"y":44,"s":"SnS₂"},{"x":44.8,"y":39,"s":"SnS₂"},{"x":40.3,"y":34.4,"s":"SnS₂"},{"x":36.3,"y":30.4,"s":"SnS₂"},{"x":32.7,"y":27,"s":"SnS₂"},{"x":29.8,"y":24.4,"s":"SnS₂"},{"x":26.9,"y":21.4,"s":"SnS₂"},{"x":24.7,"y":19,"s":"SnS₂"},{"x":22.6,"y":16.6,"s":"SnS₂"},{"x":20.5,"y":14.6,"s":"SnS₂"},{"x":18.5,"y":12.6,"s":"SnS₂"},{"x":16.6,"y":10.8,"s":"SnS₂"},{"x":14.7,"y":9,"s":"SnS₂"},{"x":12.9,"y":7.4,"s":"SnS₂"},{"x":11.3,"y":6,"s":"SnS₂"},{"x":9.7,"y":4.6,"s":"SnS₂"},{"x":8.1,"y":3.4,"s":"SnS₂"},{"x":6.5,"y":2.2,"s":"SnS₂"},{"x":4.8,"y":1.2,"s":"SnS₂"},{"x":3.2,"y":0.4,"s":"SnS₂"},
    {"x":93.9,"y":68.4,"s":"SSM-I"},{"x":85,"y":64,"s":"SSM-I"},{"x":76.3,"y":58.6,"s":"SSM-I"},{"x":68.1,"y":53.4,"s":"SSM-I"},{"x":60.5,"y":48,"s":"SSM-I"},{"x":53.7,"y":43,"s":"SSM-I"},{"x":48.1,"y":38.4,"s":"SSM-I"},{"x":43.2,"y":34,"s":"SSM-I"},{"x":39.5,"y":30.4,"s":"SSM-I"},{"x":36,"y":27,"s":"SSM-I"},{"x":32.6,"y":24,"s":"SSM-I"},{"x":29.5,"y":21.6,"s":"SSM-I"},{"x":26.6,"y":19,"s":"SSM-I"},{"x":24.2,"y":17,"s":"SSM-I"},{"x":21.8,"y":15,"s":"SSM-I"},{"x":19.8,"y":13,"s":"SSM-I"},{"x":17.9,"y":11.4,"s":"SSM-I"},{"x":16.1,"y":9.6,"s":"SSM-I"},{"x":14.5,"y":8,"s":"SSM-I"},{"x":12.9,"y":6.6,"s":"SSM-I"},{"x":11.3,"y":5.2,"s":"SSM-I"},{"x":9.7,"y":4,"s":"SSM-I"},{"x":8.1,"y":2.8,"s":"SSM-I"},{"x":6.8,"y":1.8,"s":"SSM-I"},{"x":5.3,"y":0.8,"s":"SSM-I"},
    {"x":100,"y":70,"s":"SSM-III"},{"x":90.6,"y":66.4,"s":"SSM-III"},{"x":81.9,"y":62,"s":"SSM-III"},{"x":73.9,"y":56.6,"s":"SSM-III"},{"x":66.6,"y":51.6,"s":"SSM-III"},{"x":59.2,"y":46,"s":"SSM-III"},{"x":53.2,"y":41.4,"s":"SSM-III"},{"x":47.6,"y":37,"s":"SSM-III"},{"x":42.7,"y":33,"s":"SSM-III"},{"x":38.7,"y":29.6,"s":"SSM-III"},{"x":35.2,"y":26.4,"s":"SSM-III"},{"x":31.8,"y":23.6,"s":"SSM-III"},{"x":28.7,"y":21,"s":"SSM-III"},{"x":26.1,"y":18.6,"s":"SSM-III"},{"x":23.7,"y":16.4,"s":"SSM-III"},{"x":21.5,"y":14.4,"s":"SSM-III"},{"x":19.4,"y":12.4,"s":"SSM-III"},{"x":17.4,"y":10.6,"s":"SSM-III"},{"x":15.6,"y":9,"s":"SSM-III"},{"x":14,"y":7.4,"s":"SSM-III"},{"x":12.4,"y":6,"s":"SSM-III"},{"x":10.8,"y":4.6,"s":"SSM-III"},{"x":9.4,"y":3.4,"s":"SSM-III"},{"x":8.1,"y":2.4,"s":"SSM-III"},{"x":6.8,"y":1.4,"s":"SSM-III"},{"x":5.3,"y":0.6,"s":"SSM-III"},
    {"x":97.1,"y":72.6,"s":"SSM-IV"},{"x":87.4,"y":67.4,"s":"SSM-IV"},{"x":79.8,"y":62,"s":"SSM-IV"},{"x":73.1,"y":56.6,"s":"SSM-IV"},{"x":66.9,"y":52,"s":"SSM-IV"},{"x":63.2,"y":49.4,"s":"SSM-IV"},{"x":57.3,"y":44.4,"s":"SSM-IV"},{"x":51.3,"y":39,"s":"SSM-IV"},{"x":46.5,"y":34.4,"s":"SSM-IV"},{"x":42.3,"y":30.6,"s":"SSM-IV"},{"x":38.7,"y":27.4,"s":"SSM-IV"},{"x":35.5,"y":24.6,"s":"SSM-IV"},{"x":32.6,"y":22,"s":"SSM-IV"},{"x":29.8,"y":20,"s":"SSM-IV"},{"x":27.1,"y":18,"s":"SSM-IV"},{"x":24.7,"y":16,"s":"SSM-IV"},{"x":22.3,"y":14,"s":"SSM-IV"},{"x":20.2,"y":12.2,"s":"SSM-IV"},{"x":18.2,"y":10.6,"s":"SSM-IV"},{"x":16.5,"y":9,"s":"SSM-IV"},{"x":14.8,"y":7.6,"s":"SSM-IV"},{"x":13.2,"y":6.2,"s":"SSM-IV"},{"x":11.6,"y":5,"s":"SSM-IV"},{"x":10,"y":3.8,"s":"SSM-IV"},{"x":8.4,"y":2.8,"s":"SSM-IV"},{"x":6.8,"y":1.8,"s":"SSM-IV"},{"x":5.2,"y":1,"s":"SSM-IV"},
    {"x":97.1,"y":60.6,"s":"SSM-II"},{"x":89.8,"y":57.4,"s":"SSM-II"},{"x":82.6,"y":54.4,"s":"SSM-II"},{"x":74.7,"y":51,"s":"SSM-II"},{"x":67.7,"y":47.4,"s":"SSM-II"},{"x":61,"y":43.4,"s":"SSM-II"},{"x":54.4,"y":39,"s":"SSM-II"},{"x":48.9,"y":34.4,"s":"SSM-II"},{"x":44,"y":30.4,"s":"SSM-II"},{"x":39.5,"y":27,"s":"SSM-II"},{"x":35.5,"y":24,"s":"SSM-II"},{"x":31.8,"y":21.4,"s":"SSM-II"},{"x":28.5,"y":19,"s":"SSM-II"},{"x":25.8,"y":17,"s":"SSM-II"},{"x":23.4,"y":15,"s":"SSM-II"},{"x":21,"y":13,"s":"SSM-II"},{"x":18.9,"y":11.4,"s":"SSM-II"},{"x":16.9,"y":9.8,"s":"SSM-II"},{"x":15,"y":8.2,"s":"SSM-II"},{"x":13.2,"y":6.8,"s":"SSM-II"},{"x":11.6,"y":5.6,"s":"SSM-II"},{"x":10,"y":4.4,"s":"SSM-II"},{"x":8.5,"y":3.2,"s":"SSM-II"},{"x":7.3,"y":2.2,"s":"SSM-II"},{"x":6,"y":1.2,"s":"SSM-II"},{"x":4.8,"y":0.4,"s":"SSM-II"}
  ]
},
"spacing": 11,
"resolve": {"scale": {"color": "independent", "shape": "independent"}, "legend": {"color": "independent", "shape": "independent"}},
"vconcat": [
  {
    "resolve": {"scale": {"color": "independent"}, "legend": {"color": "independent"}},
    "hconcat": [
      {
        "width": 197, "height": 159,
        "title": {"text": "(a)", "orient": "top", "anchor": "start", "frame": "group", "dx": -23, "dy": 13},
        "data": {"name": "a_lines"},
        "mark": {"type": "line", "clip": true, "strokeWidth": 1.1},
        "encoding": {
          "x": {"field": "x", "type": "quantitative", "scale": {"domain": [200, 800], "nice": false, "zero": false}, "axis": {"values": [200, 300, 400, 500, 600, 700, 800], "title": "Wavelength (nmn)", "titlePadding": 3}},
          "y": {"field": "y", "type": "quantitative", "scale": {"domain": [0, 100], "nice": false}, "axis": {"labels": false, "ticks": false, "title": "Absorbance(a.u.)", "titlePadding": 8}},
          "color": {"field": "s", "type": "nominal",
            "scale": {"domain": ["SSM-I", "SSM-II", "SSM-III", "SSM-IV", "SnS₂", "SrFe₁₂O₁₉", "MoS₂"], "range": ["#3c3c3c", "#e5484d", "#2e78d6", "#38a869", "#b784e0", "#d9a21b", "#1ed6d6"]},
            "legend": {"title": null, "orient": "none", "legendX": 7, "legendY": 1, "symbolType": "M-2.667,0H2.667", "symbolSize": 36, "symbolStrokeWidth": 1.5, "labelFontSize": 8, "labelOffset": 9, "rowPadding": 0.4, "padding": 0, "labelLimit": 200}}
        }
      },
      {
        "width": 198, "height": 159,
        "title": {"text": "(b)", "orient": "top", "anchor": "start", "frame": "group", "dx": -22, "dy": 15},
        "encoding": {
          "x": {"field": "x", "type": "quantitative", "scale": {"domain": [0, 6.2], "nice": false, "zero": false}, "axis": {"values": [0, 1, 2, 3, 4, 5, 6], "title": "hv (eV)", "titlePadding": 3}},
          "y": {"field": "y", "type": "quantitative", "scale": {"domain": [0, 100], "nice": false}, "axis": {"labels": false, "ticks": false, "title": "(αhv)²", "titlePadding": 4}}
        },
        "layer": [
          {"data": {"name": "b_rect"}, "mark": {"type": "rect", "fill": "#9a9a9a", "fillOpacity": 0.35, "stroke": "#f28b98", "strokeWidth": 1, "clip": false},
           "encoding": {"x2": {"field": "x2"}, "y2": {"field": "y2"}}},
          {"data": {"name": "b_lines"}, "mark": {"type": "line", "clip": true, "strokeWidth": 1.1},
           "encoding": {"color": {"field": "s", "type": "nominal",
              "scale": {"domain": ["SSM-I", "SSM-II", "SSM-III", "SSM-IV", "SnS₂", "SrFe₁₂O₁₉"], "range": ["#3c3c3c", "#e5484d", "#2e78d6", "#38a869", "#b784e0", "#d9a21b"]},
              "legend": {"title": null, "orient": "none", "legendX": 8.4, "legendY": 4.4, "symbolType": "M-3.333,0H3.333", "symbolSize": 36, "symbolStrokeWidth": 1.6, "labelFontSize": 8.5, "labelOffset": 9.6, "rowPadding": 1.8, "padding": 0, "labelLimit": 200}}}},
          {"data": {"name": "b_tan"}, "mark": {"type": "line", "color": "#111", "strokeWidth": 1.4},
           "encoding": {"detail": {"field": "id"}}},
          {"data": {"name": "b_arrow"}, "mark": {"type": "rule", "color": "#555", "strokeWidth": 0.6},
           "encoding": {"x2": {"field": "x2"}, "y2": {"field": "y2"}}},
          {"data": {"name": "b_text"}, "mark": {"type": "text", "fontSize": 7.5, "font": "Liberation Serif", "color": "#222"},
           "encoding": {"text": {"field": "t"}}},
          {"data": {"name": "b_ev"}, "mark": {"type": "text", "fontSize": 8.5, "font": "Liberation Serif", "color": "#222", "align": "left"},
           "encoding": {"text": {"field": "t"}}}
        ]
      },
      {
        "width": 198, "height": 160,
        "title": {"text": "(c)", "orient": "top", "anchor": "start", "frame": "group", "dx": -24, "dy": 12},
        "encoding": {
          "x": {"field": "x", "type": "quantitative", "scale": {"domain": [1.43, 3.163], "nice": false, "zero": false}, "axis": {"values": [1.5, 2, 2.5, 3], "labelExpr": "datum.value % 1 == 0 ? format(datum.value, 'd') : ''", "title": "hv (eV)", "titlePadding": 3}},
          "y": {"field": "y", "type": "quantitative", "scale": {"domain": [0, 100], "nice": false}, "axis": {"labels": false, "ticks": false, "title": "(αhv)²", "titlePadding": 8}}
        },
        "layer": [
          {"data": {"name": "c_lines"}, "mark": {"type": "line", "clip": true, "strokeWidth": 1.1},
           "encoding": {"color": {"field": "s", "type": "nominal",
              "scale": {"domain": ["SnS₂", "SrFe₁₂O₁₉"], "range": ["#b784e0", "#d9a21b"]},
              "legend": {"title": null, "orient": "none", "legendX": 139.3, "legendY": 88.4, "symbolType": "M-2.333,0H2.333", "symbolSize": 36, "symbolStrokeWidth": 1.6, "labelFontSize": 8.5, "labelOffset": 7.4, "rowPadding": 2.1, "padding": 0, "labelLimit": 200}}}},
          {"data": {"name": "c_tan"}, "mark": {"type": "line", "color": "#111", "strokeWidth": 1.4},
           "encoding": {"detail": {"field": "id"}}},
          {"data": {"name": "c_arrow"}, "mark": {"type": "rule", "color": "#555", "strokeWidth": 0.6},
           "encoding": {"x2": {"field": "x2"}, "y2": {"field": "y2"}}},
          {"data": {"name": "c_text"}, "mark": {"type": "text", "fontSize": 8, "font": "Liberation Serif", "color": "#222", "align": "left"},
           "encoding": {"text": {"field": "t"}}}
        ]
      }
    ],
    "spacing": 32,
    "bounds": "flush"
  },
  {
    "resolve": {"scale": {"color": "independent", "shape": "independent"}, "legend": {"color": "independent", "shape": "independent"}},
    "hconcat": [
      {
        "width": 66, "height": 166,
        "view": {"stroke": null, "fill": "white"},
        "data": {"values": [{"k": 0}]},
        "mark": {"type": "point", "opacity": 0},
        "encoding": {}
      },
      {
        "width": 196, "height": 166,
        "title": {"text": "(d)", "orient": "top", "anchor": "start", "frame": "group", "dx": -23, "dy": 15},
        "data": {"name": "d_lines"},
        "mark": {"type": "line", "clip": true, "strokeWidth": 1.1},
        "encoding": {
          "x": {"field": "x", "type": "quantitative", "scale": {"domain": [390, 700], "nice": false, "zero": false}, "axis": {"values": [400, 500, 600, 700], "title": "Wavelength (nm)", "titlePadding": 4}},
          "y": {"field": "y", "type": "quantitative", "scale": {"domain": [0, 100], "nice": false}, "axis": {"labels": false, "ticks": false, "title": "PL Intensity (a.u.)", "titlePadding": 10}},
          "color": {"field": "s", "type": "nominal",
            "scale": {"domain": ["SSM-I", "SSM-II", "SSM-III", "SSM-IV", "SrFe₁₂O₁₉", "SnS₂"], "range": ["#3c3c3c", "#38a869", "#e5484d", "#2e78d6", "#b784e0", "#d9a21b"]},
            "legend": {"title": null, "orient": "none", "legendX": 140.3, "legendY": 2.7, "symbolType": "M-3.333,0H3.333", "symbolSize": 36, "symbolStrokeWidth": 1.6, "labelFontSize": 8.5, "labelOffset": 8.7, "rowPadding": 3, "padding": 0, "labelLimit": 200}}
        }
      },
      {
        "width": 207, "height": 166,
        "title": {"text": "(e)", "orient": "top", "anchor": "start", "frame": "group", "dx": -22, "dy": 14},
        "data": {"name": "e_pts"},
        "mark": {"type": "point", "filled": true, "opacity": 1, "size": 16},
        "encoding": {
          "x": {"field": "x", "type": "quantitative", "scale": {"domain": [0, 100], "nice": false, "zero": false}, "axis": {"labels": false, "ticks": false, "title": "Z' (ohm)", "titlePadding": 13}},
          "y": {"field": "y", "type": "quantitative", "scale": {"domain": [0, 100], "nice": false}, "axis": {"labels": false, "ticks": false, "title": "-Z'' (ohm)", "titlePadding": 9}},
          "color": {"field": "s", "type": "nominal",
            "scale": {"domain": ["SSM-I", "SSM-II", "SSM-III", "SSM-IV", "SnS₂", "SrFe₁₂O₁₉", "MoS₂"], "range": ["#e5484d", "#444444", "#2e78d6", "#38a869", "#b784e0", "#d9a21b", "#1ee3e3"]},
            "legend": {"title": null, "orient": "none", "legendX": 13, "legendY": 6, "symbolSize": 20, "labelFontSize": 8.5, "labelOffset": 7, "rowPadding": 2.4, "padding": 0, "labelLimit": 200}},
          "shape": {"field": "s", "type": "nominal",
            "scale": {"domain": ["SSM-I", "SSM-II", "SSM-III", "SSM-IV", "SnS₂", "SrFe₁₂O₁₉", "MoS₂"], "range": ["circle", "square", "triangle-up", "triangle-down", "diamond", "triangle-left", "square"]},
            "legend": {"title": null, "orient": "none", "legendX": 13, "legendY": 6, "symbolSize": 20, "labelFontSize": 8.5, "labelOffset": 7, "rowPadding": 2.4, "padding": 0, "labelLimit": 200}}
        }
      }
    ],
    "spacing": 38.7,
    "bounds": "flush"
  }
]
}
